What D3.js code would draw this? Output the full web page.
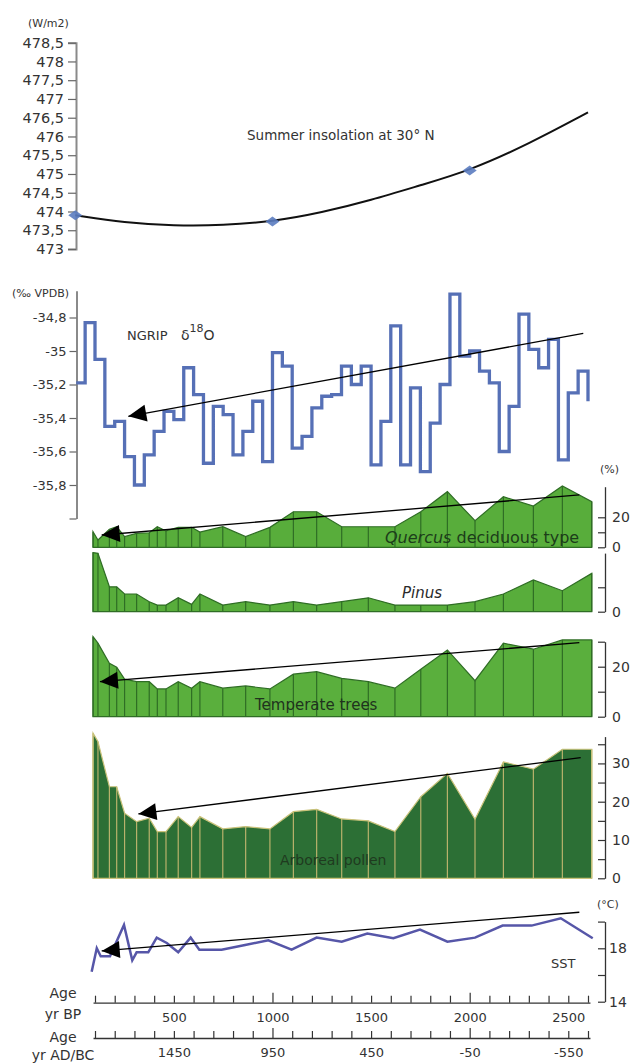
<!DOCTYPE html>
<html><head><meta charset="utf-8">
<script src="https://cdn.jsdelivr.net/npm/d3@7"></script>
<style>
body{margin:0;background:#fff}
svg{display:block}
text{font-family:"DejaVu Sans",sans-serif;fill:#333}
</style>
</head><body>
<svg id="c" width="630" height="1064"></svg>
<script>
// ---------- DATA ----------
// Summer insolation at 30°N (W/m2) vs age (yr BP)
const insolAge   = [0, 250, 500, 750, 1000, 1250, 1500, 1750, 2000, 2300, 2600];
const insolValue = [473.9, 473.7, 473.62, 473.63, 473.73, 473.97, 474.3, 474.7, 475.09, 475.8, 476.64];
const insolMarkAge   = [0, 1000, 2000];
const insolMarkValue = [473.9, 473.73, 475.09];
const insolTicks = [473, 473.5, 474, 474.5, 475, 475.5, 476, 476.5, 477, 477.5, 478, 478.5];

// NGRIP d18O (‰ VPDB), 50-yr steps
const ngripAge = [5, 50, 100, 150, 200, 250, 300, 350, 400, 450, 500, 550, 600, 650, 700, 750, 800, 850, 900, 950,
  1000, 1050, 1100, 1150, 1200, 1250, 1300, 1350, 1400, 1450, 1500, 1550, 1600, 1650, 1700, 1750, 1800, 1850, 1900, 1950,
  2000, 2050, 2100, 2150, 2200, 2250, 2300, 2350, 2400, 2450, 2500, 2550, 2600];
const ngripValue = [-35.19, -34.83, -35.05, -35.45, -35.42, -35.63, -35.80, -35.62, -35.48, -35.36,
  -35.41, -35.10, -35.26, -35.67, -35.33, -35.38, -35.62, -35.48, -35.30, -35.66,
  -35.01, -35.09, -35.58, -35.51, -35.34, -35.27, -35.26, -35.09, -35.20, -35.09,
  -35.68, -35.42, -34.85, -35.68, -35.22, -35.72, -35.43, -35.20, -34.66, -35.03,
  -35.00, -35.12, -35.19, -35.60, -35.33, -34.78, -34.99, -35.10, -34.93, -35.65,
  -35.25, -35.12, -35.30];
const ngripTicks = [-34.8, -35, -35.2, -35.4, -35.6, -35.8, -36];
const ngripTickLabels = ["-34,8", "-35", "-35,2", "-35,4", "-35,6", "-35,8", ""];

// Pollen (%), shared sample ages (yr BP)
const pollenAge = [90, 115, 173, 210, 250, 311, 375, 416, 460, 522, 590, 632, 748, 864, 987, 1106, 1224,
  1351, 1486, 1621, 1752, 1887, 2027, 2171, 2323, 2470, 2619];
const quercusValue = [10.4, 4.9, 12.0, 13.7, 7.1, 9.3, 9.7, 13.7, 10.9, 13.3, 13.3, 10.2, 13.7, 7.1, 13.3, 23.7, 23.7,
  13.7, 13.7, 13.7, 23.7, 37.1, 17.7, 33.7, 27.5, 40.9, 30.4];
const pinusValue = [24.2, 23.9, 10.2, 10.2, 7.25, 7.25, 4.1, 2.7, 2.7, 5.7, 3.0, 7.25, 2.7, 4.1, 2.7, 4.1, 2.7,
  4.1, 5.7, 2.7, 2.7, 2.7, 4.1, 7.25, 13.0, 8.6, 15.7];
const temperateValue = [32.0, 29.4, 21.4, 19.8, 15.0, 14.0, 14.0, 11.1, 11.1, 14.0, 11.4, 14.0, 11.4, 12.3, 11.1, 17.0, 18.0,
  15.3, 14.0, 11.4, 19.0, 26.7, 14.4, 29.4, 27.0, 30.7, 30.7];
const arborealValue = [37.9, 35.7, 23.9, 23.9, 17.0, 14.8, 15.7, 12.2, 12.2, 16.1, 13.3, 16.1, 12.9, 13.5, 12.9, 17.4, 18.0,
  15.5, 15.0, 12.2, 21.3, 27.4, 15.4, 30.4, 28.5, 33.7, 33.7];
const quercusTicks = [0, 10, 20], quercusTickLabels = ["0", "", "20"];
const pinusTicks = [0, 10], pinusTickLabels = ["0", ""];
const temperateTicks = [0, 10, 20, 30], temperateTickLabels = ["0", "", "20", ""];
const arborealTicks = [0, 5, 10, 15, 20, 25, 30, 35], arborealTickLabels = ["0", "", "10", "", "20", "", "30", ""];

// SST (°C)
const sstAge = [83, 109, 129, 176, 247, 289, 311, 370, 413, 464, 522, 585, 629, 742, 861, 979, 1097, 1224,
  1351, 1481, 1613, 1748, 1887, 2027, 2167, 2314, 2462, 2624];
const sstValue = [16.25, 18.0, 17.4, 17.4, 19.75, 17.1, 17.7, 17.7, 18.8, 18.4, 17.7, 18.8, 17.9, 17.9, 18.25, 18.6, 17.9, 18.8,
  18.5, 19.1, 18.75, 19.4, 18.5, 18.8, 19.7, 19.7, 20.25, 18.75];
const sstTicks = [14, 16, 18, 20], sstTickLabels = ["14", "", "18", ""];

// Trend arrows [ageTip, valueTip, ageEnd, valueEnd]
const ngripTrend = [269, -35.39, 2576, -34.895];
const quercusTrend = [134, 8.2, 2556, 34.9];
const temperateTrend = [125, 14.0, 2556, 29.6];
const arborealTrend = [320, 16.8, 2563, 31.5];
const sstTrend = [134, 17.8, 2556, 20.7];

// Age axes
const ageTicks = [100, 200, 300, 400, 500, 600, 700, 800, 900, 1000, 1100, 1200, 1300, 1400, 1500, 1600, 1700, 1800, 1900,
  2000, 2100, 2200, 2300, 2400, 2500, 2600];
const bpLabelAges = [500, 1000, 1500, 2000, 2500];
const bpLabels = ["500", "1000", "1500", "2000", "2500"];
const adLabels = ["1450", "950", "450", "-50", "-550"];

// ---------- DRAW ----------
const svg = d3.select("#c");
const x = d3.scaleLinear().domain([100, 2600]).range([95, 588]);

function styleAxis(g, domColor, domW, tickColor, fs) {
  g.attr("font-family", null).attr("font-size", null);
  g.select(".domain").attr("stroke", domColor).attr("stroke-width", domW);
  g.selectAll(".tick line").attr("stroke", tickColor).attr("stroke-width", 1.2);
  g.selectAll(".tick text").attr("fill", "#333").style("font-size", fs + "px");
}
function arrowLine(g, sx, sy, t) {
  const x0 = sx(t[0]), y0 = sy(t[1]), x1 = sx(t[2]), y1 = sy(t[3]);
  g.append("line").attr("x1", x0).attr("y1", y0).attr("x2", x1).attr("y2", y1)
    .attr("stroke", "#000").attr("stroke-width", 1.3);
  const a = Math.atan2(y0 - y1, x0 - x1), L = 18, w = 8.5;
  const bx = x0 - L * Math.cos(a), by = y0 - L * Math.sin(a);
  g.append("path").attr("d", `M${x0},${y0}L${bx + w * Math.sin(a)},${by - w * Math.cos(a)}L${bx - w * Math.sin(a)},${by + w * Math.cos(a)}Z`)
    .attr("fill", "#000");
}
function label(txt, px, py, fs, opt = {}) {
  const t = svg.append("text").attr("x", px).attr("y", py).style("font-size", fs + "px").text(txt);
  if (opt.fill) t.style("fill", opt.fill);
  if (opt.italic) t.style("font-style", "italic");
  if (opt.anchor) t.attr("text-anchor", opt.anchor);
  return t;
}

// --- Insolation panel ---
const yIns = d3.scaleLinear().domain([473, 478.5]).range([249, 42.7]);
const gIns = svg.append("g");
gIns.append("g").attr("transform", "translate(76,0)")
  .call(d3.axisLeft(yIns).tickValues(insolTicks).tickSize(8).tickPadding(4)
    .tickFormat(d => String(d).replace(".", ",")))
  .call(g => styleAxis(g, "#8a8a8a", 2, "#666", 14.5));
gIns.append("path").datum(insolAge.map((a, i) => [a, insolValue[i]]))
  .attr("d", d3.line().x(d => x(d[0])).y(d => yIns(d[1])).curve(d3.curveBasis))
  .attr("fill", "none").attr("stroke", "#111").attr("stroke-width", 2);
gIns.selectAll("path.dia").data(insolMarkAge.map((a, i) => [a, insolMarkValue[i]])).join("path")
  .attr("class", "dia")
  .attr("d", d => `M${x(d[0]) - 7},${yIns(d[1])}L${x(d[0])},${yIns(d[1]) - 5}L${x(d[0]) + 7},${yIns(d[1])}L${x(d[0])},${yIns(d[1]) + 5}Z`)
  .attr("fill", "#5b7cc0").attr("opacity", 0.9);
label("(W/m2)", 28, 27, 11);
label("Summer insolation at 30° N", 247, 140, 13.5);

// --- NGRIP panel ---
const yNg = d3.scaleLinear().domain([-36, -34.64]).range([518.5, 290.7]);
const gNg = svg.append("g");
gNg.append("g").attr("transform", "translate(76.5,0)")
  .call(d3.axisLeft(yNg).tickValues(ngripTicks).tickSizeInner(7).tickSizeOuter(0).tickPadding(3)
    .tickFormat((d, i) => ngripTickLabels[i]))
  .call(g => styleAxis(g, "#8a8a8a", 2, "#666", 13));
gNg.append("path").datum(ngripAge.map((a, i) => [a, ngripValue[i]]))
  .attr("d", d3.line().x(d => x(d[0])).y(d => yNg(d[1])).curve(d3.curveStepAfter))
  .attr("fill", "none").attr("stroke", "#5670b6").attr("stroke-width", 3.3);
arrowLine(gNg, x, yNg, ngripTrend);
label("(‰ VPDB)", 12, 297, 11);
label("NGRIP", 127, 340, 13);
const d18 = svg.append("text").attr("x", 181).attr("y", 340).style("font-size", "14px");
d18.append("tspan").text("δ");
d18.append("tspan").attr("dy", -8).style("font-size", "11px").text("18");
d18.append("tspan").attr("dy", 8).text("O");

// --- Pollen panels ---
function pollenPanel(values, y0, y1, domMax, ticks, tickLabels, fill, stroke, vline, trend) {
  const y = d3.scaleLinear().domain([0, domMax]).range([y0, y1]);
  const g = svg.append("g");
  const pts = pollenAge.map((a, i) => [a, values[i]]);
  g.append("path").datum(pts)
    .attr("d", d3.area().x(d => x(d[0])).y0(y(0)).y1(d => y(d[1])))
    .attr("fill", fill);
  g.selectAll("line.v").data(pts).join("line").attr("class", "v")
    .attr("x1", d => x(d[0])).attr("x2", d => x(d[0]))
    .attr("y1", y(0)).attr("y2", d => y(d[1]))
    .attr("stroke", vline).attr("stroke-width", 1.2);
  g.append("path").datum(pts)
    .attr("d", d3.area().x(d => x(d[0])).y0(y(0)).y1(d => y(d[1])))
    .attr("fill", "none").attr("stroke", stroke).attr("stroke-width", 1.2);
  g.append("g").attr("transform", "translate(605,0)")
    .call(d3.axisRight(y).tickValues(ticks).tickSizeInner(-7).tickSizeOuter(0).tickPadding(7)
      .tickFormat((d, i) => tickLabels[i]))
    .call(gg => styleAxis(gg, "#333", 1.3, "#333", 14));
  if (trend) arrowLine(g, x, y, trend);
  return y;
}
pollenPanel(quercusValue, 547.3, 486.7, 40.4, quercusTicks, quercusTickLabels, "#58ad3b", "#2f6d25", "#2f6d25", quercusTrend);
pollenPanel(pinusValue, 611.7, 553.1, 24, pinusTicks, pinusTickLabels, "#58ad3b", "#2f6d25", "#2f6d25", null);
pollenPanel(temperateValue, 716.7, 641.7, 30, temperateTicks, temperateTickLabels, "#5aaf3d", "#2f6d25", "#2f6d25", temperateTrend);
pollenPanel(arborealValue, 878.3, 736.6, 37, arborealTicks, arborealTickLabels, "#2c6f35", "#c9c27a", "#b9b26c", arborealTrend);

label("(%)", 600, 473, 11);
const qt = svg.append("text").attr("x", 385).attr("y", 543).style("font-size", "16px").style("fill", "#1c3d1a");
qt.append("tspan").style("font-style", "italic").text("Quercus");
qt.append("tspan").text(" deciduous type");
label("Pinus", 402, 598, 15, {italic: true, fill: "#2a2a2a"});
label("Temperate trees", 255, 710, 15, {fill: "#1f331d"});
label("Arboreal pollen", 280, 865, 14, {fill: "#1f3a1f"});

// --- SST panel ---
const ySst = d3.scaleLinear().domain([14, 20]).range([1001.7, 921.6]);
const gS = svg.append("g");
gS.append("path").datum(sstAge.map((a, i) => [a, sstValue[i]]))
  .attr("d", d3.line().x(d => x(d[0])).y(d => ySst(d[1])))
  .attr("fill", "none").attr("stroke", "#5656a8").attr("stroke-width", 2.5);
arrowLine(gS, x, ySst, sstTrend);
gS.append("g").attr("transform", "translate(605,0)")
  .call(d3.axisRight(ySst).tickValues(sstTicks).tickSizeInner(-7).tickSizeOuter(0).tickPadding(4)
    .tickFormat((d, i) => sstTickLabels[i]))
  .call(gg => styleAxis(gg, "#333", 1.3, "#333", 14));
label("(°C)", 597, 908, 11);
label("SST", 551, 968, 13);

// --- Age axes ---
const xa = d3.scaleLinear().domain([90, 2610]).range([x(90), x(2610)]);
function ageAxis(yPos, labels) {
  const g = svg.append("g").attr("transform", `translate(0,${yPos})`)
    .call(d3.axisBottom(xa).tickValues(ageTicks).tickSizeInner(-7).tickSizeOuter(0).tickPadding(10)
      .tickFormat(d => { const k = bpLabelAges.indexOf(d); return k >= 0 ? labels[k] : ""; }))
    .call(gg => styleAxis(gg, "#333", 1.3, "#333", 13));
  g.selectAll(".tick line").filter(d => d % 1000 === 0).attr("y2", -10);
}
ageAxis(1002.7, bpLabels);
ageAxis(1038, adLabels);
label("Age", 63, 998, 14, {anchor: "middle"});
label("yr BP", 63, 1019, 14, {anchor: "middle"});
label("Age", 63, 1042, 14, {anchor: "middle"});
label("yr AD/BC", 63, 1060, 14, {anchor: "middle"});
</script>
</body></html>
